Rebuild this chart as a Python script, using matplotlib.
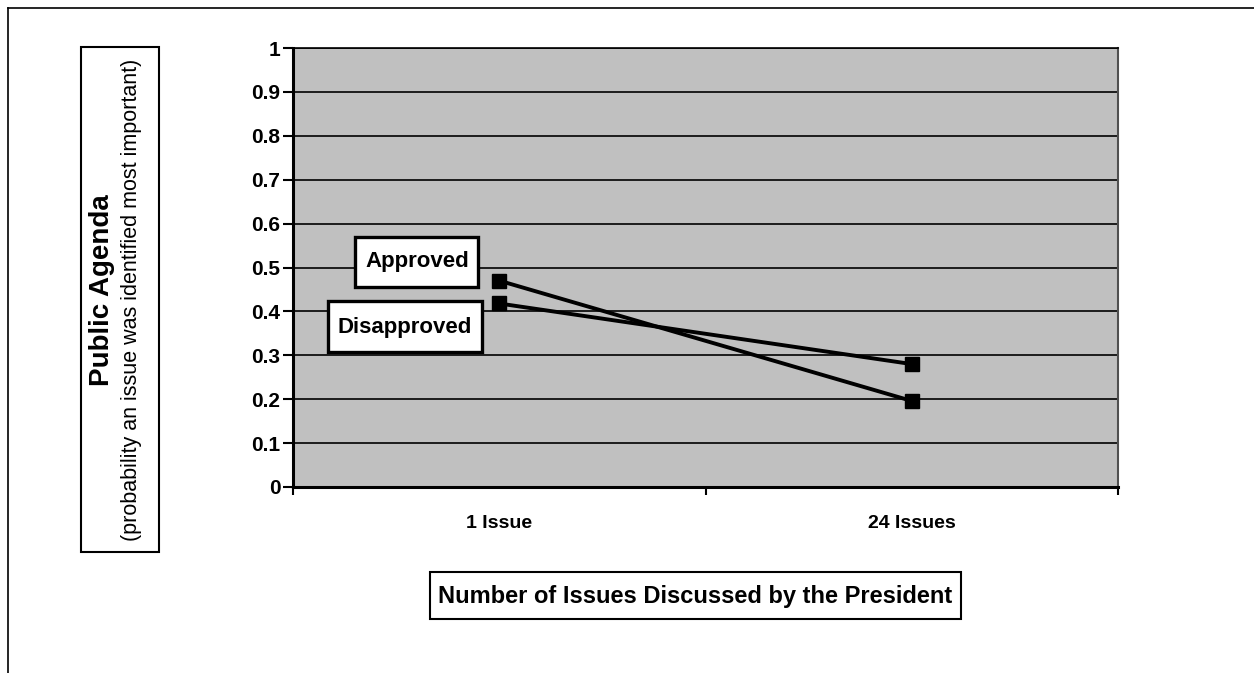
import matplotlib
matplotlib.use("Agg")
import matplotlib.pyplot as plt
from matplotlib.patches import Rectangle
from matplotlib.lines import Line2D

# Data
categories = ["1 Issue", "24 Issues"]
approved = [0.47, 0.196]
disapproved = [0.418, 0.28]
series_names = ["Approved", "Disapproved"]
y_ticks = [0, 0.1, 0.2, 0.3, 0.4, 0.5, 0.6, 0.7, 0.8, 0.9, 1.0]
y_tick_labels = ["0", "0.1", "0.2", "0.3", "0.4", "0.5", "0.6", "0.7", "0.8", "0.9", "1"]
x_title = "Number of Issues Discussed by the President"
y_title_main = "Public Agenda"
y_title_sub = "(probability an issue was identified most important)"

W, H = 1254, 673
plt.rcParams["font.family"] = ["Liberation Sans", "DejaVu Sans"]
fig = plt.figure(figsize=(W / 100, H / 100), dpi=100)
fig.patch.set_facecolor("white")


def fx(px):
    return px / W


def fy(py):
    return 1 - py / H


def box(x0, y0, x1, y1, lw=1.5):
    fig.add_artist(Rectangle((fx(x0), fy(y1)), fx(x1) - fx(x0), fy(y0) - fy(y1),
                             transform=fig.transFigure, facecolor="white",
                             edgecolor="black", lw=lw, zorder=5))


# Outer frame (top and left edges)
fig.add_artist(Line2D([fx(8), 1], [fy(8), fy(8)], transform=fig.transFigure,
                      color="black", lw=1.2))
fig.add_artist(Line2D([fx(8), fx(8)], [fy(8), 0], transform=fig.transFigure,
                      color="black", lw=1.2))

left, right, top, bottom = 293, 1118, 48, 487
ax = fig.add_axes([fx(left), fy(bottom), fx(right) - fx(left), fy(top) - fy(bottom)])
ax.set_facecolor("#C0C0C0")

xpos = [0.5, 1.5]
for vals in (approved, disapproved):
    ax.plot(xpos, vals, color="black", lw=2.8, marker="s", markersize=10,
            markerfacecolor="black", markeredgecolor="black", zorder=4)

ax.set_xlim(0, 2)
ax.set_ylim(0, 1)
ax.set_yticks(y_ticks)
ax.set_yticklabels(y_tick_labels, fontsize=15, fontweight="bold")
ax.set_xticks([0, 1, 2])
ax.set_xticklabels([])
ax.set_xticks(xpos, minor=True)
ax.set_xticklabels(categories, minor=True, fontsize=14, fontweight="bold")
ax.tick_params(axis="x", which="minor", length=0, pad=20)
ax.tick_params(axis="x", which="major", direction="out", length=6, width=1.5)
ax.tick_params(axis="y", direction="out", length=7, width=1.5, pad=2)
ax.yaxis.grid(True, color="black", lw=1.2)
ax.set_axisbelow(True)

for s in ("left", "bottom"):
    ax.spines[s].set_color("black")
    ax.spines[s].set_linewidth(2.2)
ax.spines["top"].set_color("black")
ax.spines["top"].set_linewidth(1.2)
ax.spines["right"].set_color("#505050")
ax.spines["right"].set_linewidth(1.5)

# Series labels
box(355, 237, 478, 287, lw=2.4)
fig.text(fx(417), fy(262), series_names[0], ha="center", va="center",
         fontsize=16, fontweight="bold", zorder=6)
box(328, 301, 482, 352, lw=2.4)
fig.text(fx(405), fy(327), series_names[1], ha="center", va="center",
         fontsize=16, fontweight="bold", zorder=6)

# Axis titles
box(430, 572, 961, 619, lw=1.5)
fig.text(fx(695.5), fy(596), x_title, ha="center", va="center",
         fontsize=17, fontweight="bold", zorder=6)

box(81, 47, 159, 552, lw=1.5)
fig.text(fx(102), fy(290), y_title_main, ha="center", va="center", rotation=90,
         fontsize=20, fontweight="bold", zorder=6)
fig.text(fx(131), fy(300), y_title_sub, ha="center", va="center", rotation=90,
         fontsize=15.5, zorder=6)

fig.savefig("out.png", dpi=100, facecolor="white")
